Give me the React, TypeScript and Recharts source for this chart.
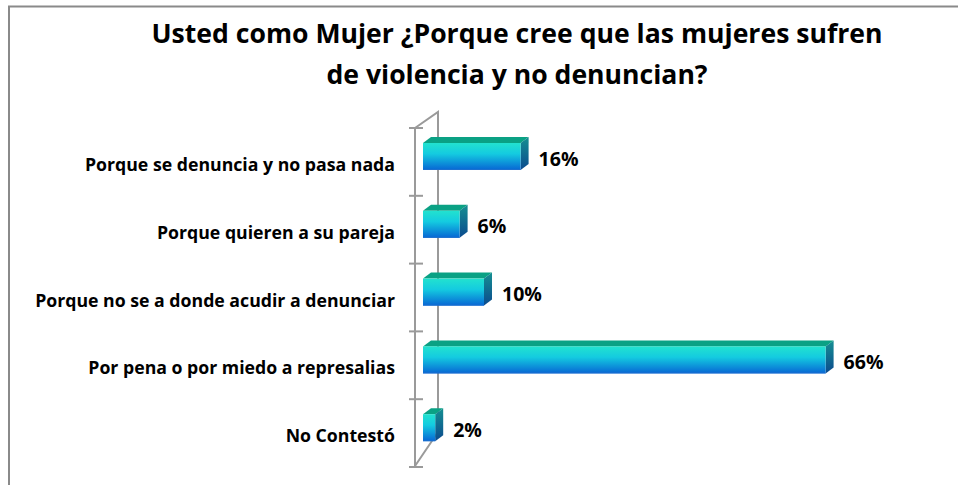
import React from 'react';
import { BarChart, Bar, XAxis, YAxis, LabelList } from 'recharts';

const categories = [
  'Porque se denuncia y no pasa nada',
  'Porque quieren a su pareja',
  'Porque no se a donde acudir a denunciar',
  'Por pena o por miedo a represalias',
  'No Contestó',
];
const percentages = [16, 6, 10, 66, 2];
const titleLines = [
  'Usted como Mujer ¿Porque cree que las mujeres sufren',
  'de violencia y no denuncian?',
];

const data = categories.map((name, i) => ({ name, value: percentages[i] }));

const W = 958;
const H = 485;
const margin = { top: 128, right: 108, bottom: 18, left: 0 };
const axisWidth = 423;
const FONT = '"Open Sans", Lato, sans-serif';
const WEIGHT = 700;
const DX = 8;
const DY = 6;
const LIFT = 5;

const Bar3D = (props: any) => {
  const { x, y, width, height, index } = props;
  if (!width && width !== 0) return null;
  const fy = y - LIFT;
  const w = Math.max(width, 0);
  const id = `g${index}`;
  return (
    <g>
      <defs>
        <linearGradient id={`front-${id}`} x1="0" y1="0" x2="0" y2="1">
          <stop offset="0%" stopColor="#22e2cf" />
          <stop offset="40%" stopColor="#14cbe0" />
          <stop offset="100%" stopColor="#0766d4" />
        </linearGradient>
        <linearGradient id={`side-${id}`} x1="0" y1="0" x2="0" y2="1">
          <stop offset="0%" stopColor="#168f92" />
          <stop offset="100%" stopColor="#0b4a8e" />
        </linearGradient>
      </defs>
      <polygon
        points={`${x},${fy} ${x + DX},${fy - DY} ${x + w + DX},${fy - DY} ${x + w},${fy}`}
        fill="#0aa184"
      />
      <polygon
        points={`${x + w},${fy} ${x + w + DX},${fy - DY} ${x + w + DX},${fy + height - DY} ${x + w},${fy + height}`}
        fill={`url(#side-${id})`}
      />
      <rect x={x} y={fy} width={w} height={height} fill={`url(#front-${id})`} />
      <line x1={x} x2={x + w} y1={fy + height - 0.5} y2={fy + height - 0.5} stroke="#1b6fcf" strokeWidth={1} />
    </g>
  );
};

const CategoryTick = (props: any) => {
  const { y, payload } = props;
  return (
    <text x={395} y={y + 9} textAnchor="end" fontFamily={FONT} fontWeight={WEIGHT} fontSize={17.7} fill="#000">
      {payload.value}
    </text>
  );
};

const ValueLabel = (props: any) => {
  const { x, y, width, height, value } = props;
  return (
    <text
      x={x + width + DX + 10}
      y={y + height / 2 + 4}
      fontFamily={FONT}
      fontWeight={WEIGHT}
      fontSize={19.5}
      fill="#000"
    >
      {value}%
    </text>
  );
};

// 3D wall behind the bars, positioned from the chart layout
const Wall = () => {
  const left = margin.left + axisWidth;
  const top = margin.top;
  const bottom = H - margin.bottom;
  const front = left - 8;
  const back = front + 23;
  const band = (bottom - top) / categories.length;
  const ticks = Array.from({ length: categories.length + 1 }, (_, i) => top + i * band);
  const stroke = '#9a9a9a';
  return (
    <g>
      <polyline
        points={`${front},${top} ${back},${top - 16} ${back},${bottom - 35} ${front},${bottom - 1}`}
        fill="none"
        stroke={stroke}
        strokeWidth={2}
      />
      <line x1={front} x2={front} y1={top} y2={bottom} stroke={stroke} strokeWidth={2} />
      {ticks.map((t, i) => (
        <line key={i} x1={front - 6} x2={front + 8} y1={t} y2={t} stroke={stroke} strokeWidth={2} />
      ))}
    </g>
  );
};

export default function App() {
  return (
    <div style={{ position: 'absolute', left: 0, top: 0, width: W, height: H, background: '#fff' }}>
      <svg width={W} height={H} style={{ position: 'absolute', left: 0, top: 0 }}>
        <path d={`M9,${H} V6.5 H${W}`} fill="none" stroke="#8a8a8a" strokeWidth={2} />
        {titleLines.map((line, i) => (
          <text
            key={i}
            x={517}
            y={43 + i * 41}
            textAnchor="middle"
            fontFamily={FONT}
            fontWeight={WEIGHT}
            fontSize={26.6}
            fill="#000"
          >
            {line}
          </text>
        ))}
        <Wall />
      </svg>
      <div style={{ position: 'absolute', left: 0, top: 0 }}>
        <BarChart width={W} height={H} data={data} layout="vertical" margin={margin}>
          <XAxis type="number" domain={[0, 70]} hide />
          <YAxis
            type="category"
            dataKey="name"
            width={axisWidth}
            axisLine={false}
            tickLine={false}
            tick={<CategoryTick />}
            interval={0}
          />
          <Bar dataKey="value" barSize={27} shape={<Bar3D />} isAnimationActive={false}>
            <LabelList dataKey="value" content={<ValueLabel />} />
          </Bar>
        </BarChart>
      </div>
    </div>
  );
}
